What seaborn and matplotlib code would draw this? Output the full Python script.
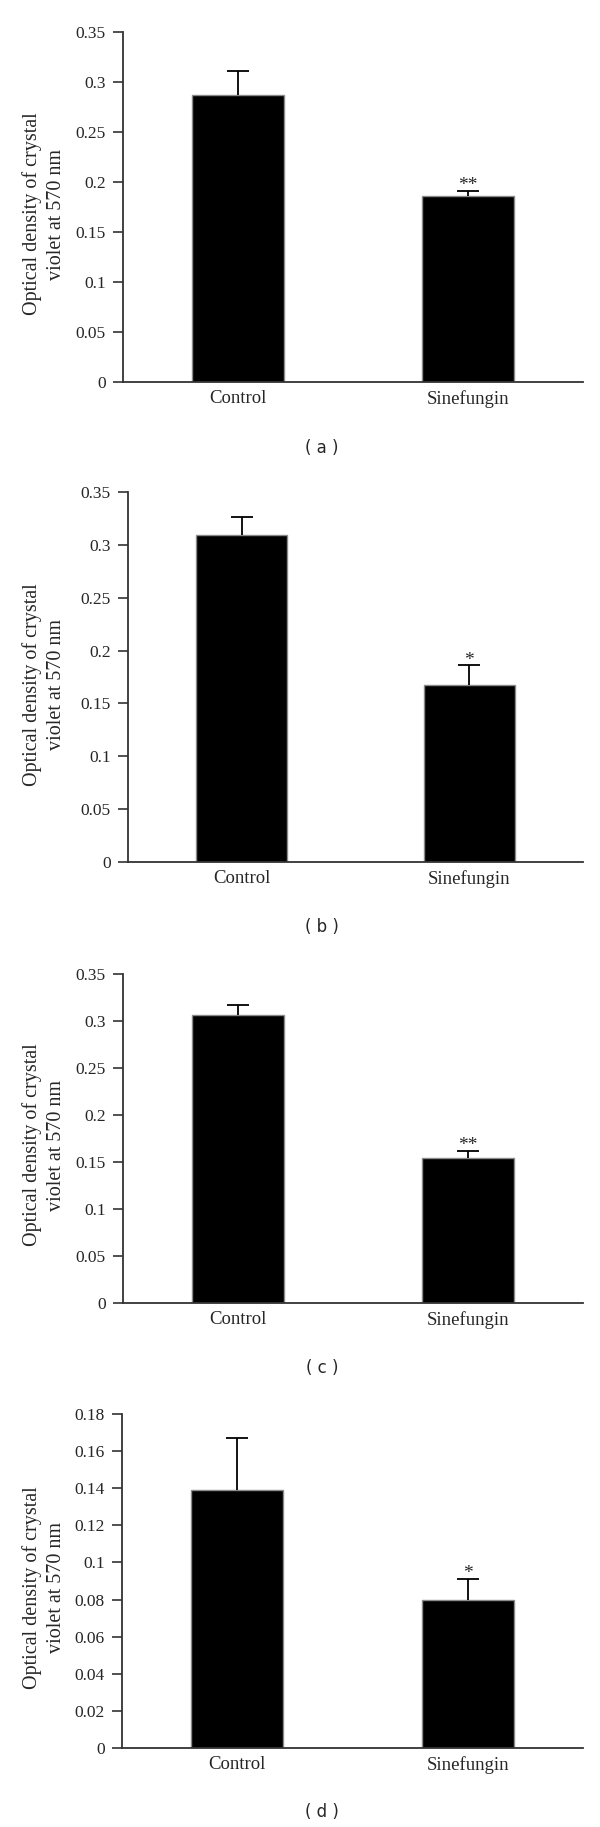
import matplotlib
matplotlib.use("Agg")
import matplotlib.pyplot as plt
import seaborn as sns
import pandas as pd

sns.set_theme(style="white")
plt.rcParams['font.family'] = ['Liberation Serif', 'DejaVu Serif']

# ---- data ----
categories = ["Control", "Sinefungin"]
panel_letters = ["( a )", "( b )", "( c )", "( d )"]

means_a = [0.287, 0.186]
errs_a = [0.024, 0.005]
stars_a = ["", "**"]

means_b = [0.309, 0.167]
errs_b = [0.017, 0.019]
stars_b = ["", "*"]

means_c = [0.306, 0.154]
errs_c = [0.011, 0.008]
stars_c = ["", "**"]

means_d = [0.139, 0.080]
errs_d = [0.028, 0.011]
stars_d = ["", "*"]

yticks_abc = [0, 0.05, 0.1, 0.15, 0.2, 0.25, 0.3, 0.35]
yticklabels_abc = ["0", "0.05", "0.1", "0.15", "0.2", "0.25", "0.3", "0.35"]
yticks_d = [0, 0.02, 0.04, 0.06, 0.08, 0.1, 0.12, 0.14, 0.16, 0.18]
yticklabels_d = ["0", "0.02", "0.04", "0.06", "0.08", "0.1", "0.12", "0.14", "0.16", "0.18"]

ylabel_text = "Optical density of crystal\nviolet at 570 nm"

W, H = 600, 1827
fig = plt.figure(figsize=(W / 100, H / 100), dpi=100)

# pixel layout: (left, right, top, bottom, letter_y)
layout = [
    (123, 583, 32, 382, 448),
    (128, 583, 492, 862, 927),
    (123, 583, 974, 1303, 1368),
    (122, 583, 1414, 1748, 1812),
]

panels = [
    (means_a, errs_a, stars_a, yticks_abc, yticklabels_abc, 0.35),
    (means_b, errs_b, stars_b, yticks_abc, yticklabels_abc, 0.35),
    (means_c, errs_c, stars_c, yticks_abc, yticklabels_abc, 0.35),
    (means_d, errs_d, stars_d, yticks_d, yticklabels_d, 0.18),
]

spine_color = "#333333"

for (l, r, t, b, ly), (means, errs, stars, ticks, tlabels, ymax), letter in zip(layout, panels, panel_letters):
    ax = fig.add_axes([l / W, 1 - b / H, (r - l) / W, (b - t) / H])
    df = pd.DataFrame({"group": categories, "value": means})
    sns.barplot(data=df, x="group", y="value", color="black", width=0.4,
                edgecolor="#8a8a8a", linewidth=1.0, errorbar=None, ax=ax,
                saturation=1)
    eb = ax.errorbar(range(len(categories)), means,
                     yerr=[[0] * len(errs), errs], fmt="none",
                     ecolor="black", elinewidth=1.3, capsize=8, capthick=1.3)
    # keep only the upper caps
    eb[1][0].set_visible(False)
    for i, (m, e, s) in enumerate(zip(means, errs, stars)):
        if s:
            ax.annotate(s, xy=(i, m + e), xytext=(0, 0.5), textcoords="offset points",
                        ha="center", va="baseline", fontsize=14)
    ax.set_xlim(-0.5, 1.5)
    ax.set_ylim(0, ymax)
    ax.set_yticks(ticks)
    ax.set_yticklabels(tlabels)
    ax.set_xlabel("")
    ax.set_ylabel(ylabel_text, fontsize=14.5, linespacing=1.38)
    ax.yaxis.set_label_coords((66 - l) / (r - l), 0.48)
    for side in ["top", "right"]:
        ax.spines[side].set_visible(False)
    for side in ["left", "bottom"]:
        ax.spines[side].set_color(spine_color)
        ax.spines[side].set_linewidth(1.3)
    ax.tick_params(axis="y", which="major", direction="out", length=7.5, width=1.2,
                   color=spine_color, pad=5, labelsize=12.5, left=True)
    ax.tick_params(axis="x", length=0, pad=5.5, labelsize=13.5)
    ax.set_facecolor("white")
    fig.text(322 / W, 1 - ly / H, letter, ha="center", va="center",
             fontsize=12, family=["DejaVu Sans"])

fig.savefig("out.png", dpi=100, facecolor="white")
